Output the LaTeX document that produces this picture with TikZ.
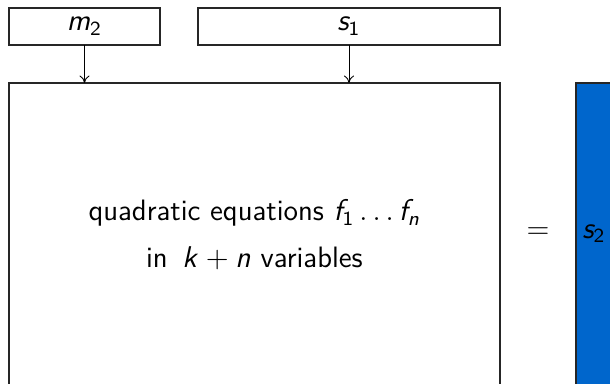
\documentclass[tikz,border=0pt]{standalone}
\usetikzlibrary{arrows.meta}
\DeclareMathAlphabet{\mathsl}{OT1}{cmss}{m}{sl}
\DeclareMathAlphabet{\mathsu}{OT1}{cmss}{m}{n}
\newcommand{\vv}[1]{\mathsl{#1}}
\definecolor{boxblue}{HTML}{0066CC}
\begin{document}
\begin{tikzpicture}[x=0.4pt,y=-0.4pt,
  every node/.style={font=\sffamily\fontsize{11.8}{18.8}\selectfont, outer sep=0pt, inner sep=0pt},
  topbox/.style={draw=black!85, line width=0.55pt, minimum height=14.8pt},
  bigbox/.style={draw=black!85, line width=0.55pt},
  feed/.style={-{To[length=3pt,width=4pt]}, line width=0.35pt}]
\useasboundingbox (0,0) rectangle (610,384);
\clip (0,0) rectangle (610,384);
\node[topbox, minimum width=60.4pt] (m2) at (84.5,26.5) {$\vv{m}_{\mathsu{2}}$};
\node[topbox, minimum width=120.8pt] (s1) at (349,26.5) {$\vv{s}_{\mathsu{1}}$};
\node[bigbox, minimum width=196.4pt, minimum height=124pt] (main) at (254.5,238) {};
\node[align=center] (eqs) at (254.5,235)
  {quadratic equations $\vv{f}_{\mathsu{1}}\ldots\vv{f}_{\vv{n}}$\\ in \,$\vv{k}+\vv{n}$ variables};
\node (eq) at (538,233) {$=$};
\node[draw=black!85, line width=0.55pt, fill=boxblue, minimum width=14.4pt, minimum height=124pt] (s2) at (594,238) {};
\node (s2t) at (594,234) {$\vv{s}_{\mathsu{2}}$};
\draw[feed] (m2.south) -- (m2.south |- main.north);
\draw[feed] (s1.south) -- (s1.south |- main.north);
\end{tikzpicture}
\end{document}
